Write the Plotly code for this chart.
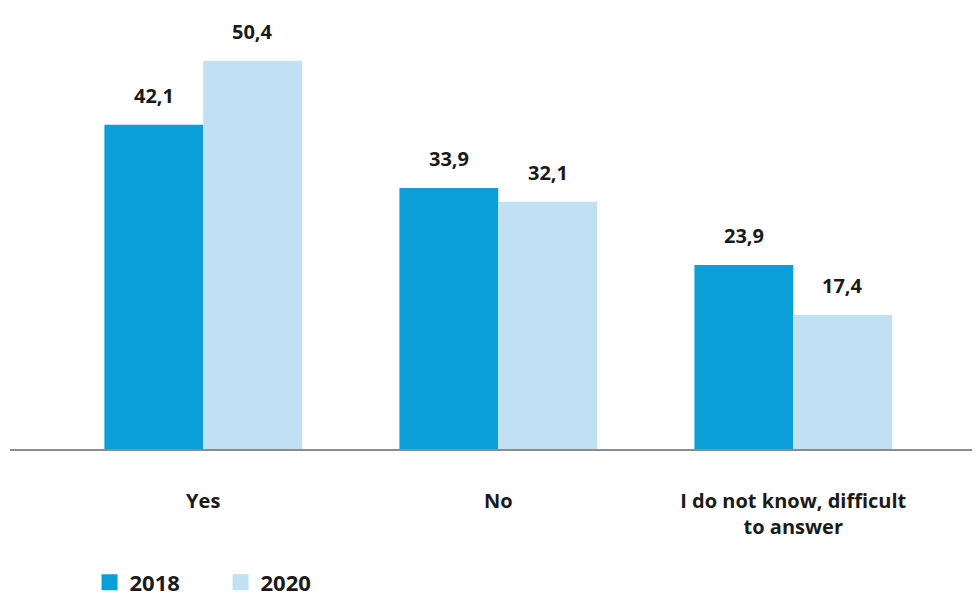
import plotly.graph_objects as go

categories = ["Yes", "No", "I do not know, difficult<br>to answer"]
years = ["2018", "2020"]
values_2018 = [42.1, 33.9, 23.9]
values_2020 = [50.4, 32.1, 17.4]
labels_2018 = ["42,1", "33,9", "23,9"]
labels_2020 = ["50,4", "32,1", "17,4"]

colors = {"2018": "#0b9ed9", "2020": "#bfe1f3"}
FONT = "Open Sans"
TXT = "#1a1a1a"

fig = go.Figure()
for yr, vals in zip(years, [values_2018, values_2020]):
    fig.add_trace(go.Bar(
        x=categories, y=vals, name=yr, showlegend=False,
        marker=dict(color=colors[yr], line=dict(width=0)),
        hoverinfo="skip",
    ))
# legend entries with larger square swatches
for yr in years:
    fig.add_trace(go.Scatter(
        x=[None], y=[None], name=yr, mode="markers",
        marker=dict(symbol="square", size=16, color=colors[yr]),
        hoverinfo="skip",
    ))

# value labels above bars
for vals, labs, shift in [(values_2018, labels_2018, -49.5), (values_2020, labels_2020, 49.5)]:
    for c, v, t in zip(categories, vals, labs):
        fig.add_annotation(x=c, y=v, text=t, showarrow=False, xshift=shift,
                           yanchor="bottom", yshift=14,
                           font=dict(family=FONT, size=20, color=TXT, weight="bold"))

fig.update_layout(
    width=972, height=588,
    margin=dict(l=2, r=0, t=12, b=147, autoexpand=False),
    paper_bgcolor="white", plot_bgcolor="white",
    barmode="group", bargap=0.33, bargroupgap=0,
    showlegend=True,
    legend=dict(orientation="h", x=0.082, xanchor="left", y=-0.311, yanchor="middle",
                font=dict(family=FONT, size=22, color=TXT, weight="bold"),
                itemwidth=30, itemsizing="trace", tracegroupgap=0,
                entrywidthmode="pixels", entrywidth=86),
    xaxis=dict(range=[-0.655, 2.633], showline=True, linecolor="#8c8c8c", linewidth=2,
               ticks="", showgrid=False, zeroline=False,
               tickfont=dict(family=FONT, size=20, color=TXT, weight="bold"),
               ticklabelstandoff=33, fixedrange=True),
    yaxis=dict(range=[0, 55.7], visible=False, showgrid=False, zeroline=False),
)

fig.write_html("out.html")
